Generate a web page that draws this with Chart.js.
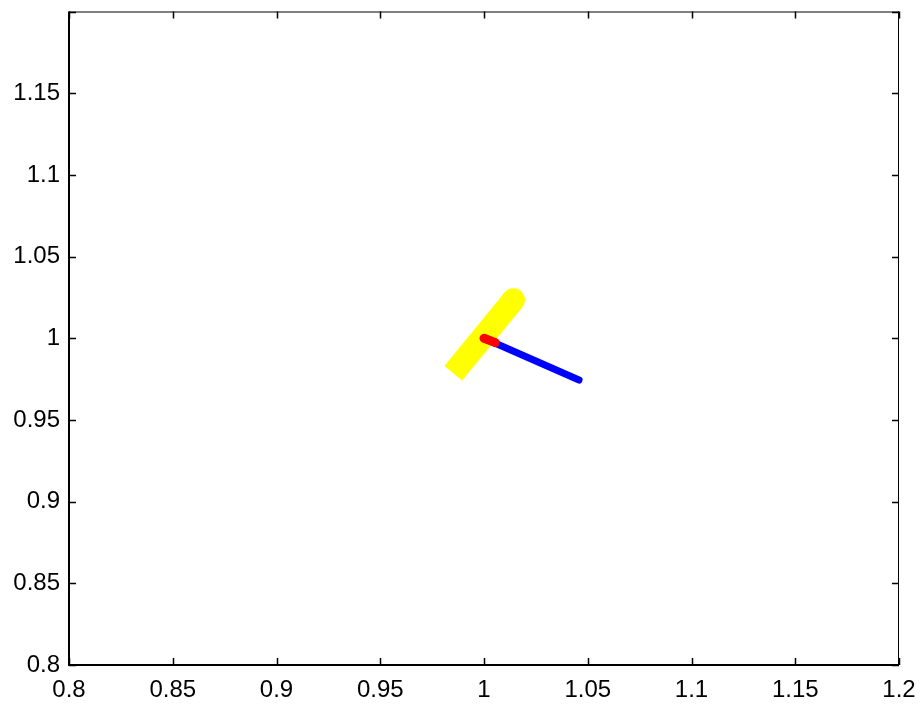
<!DOCTYPE html>
<html>
<head>
<meta charset="utf-8">
<script src="https://cdn.jsdelivr.net/npm/chart.js@4"></script>
<style>
  html, body { margin: 0; padding: 0; background: #fff; }
  #wrap { width: 924px; height: 705px; position: relative; }
</style>
</head>
<body>
<div id="wrap"><canvas id="plot"></canvas></div>
<script>
// values
const yellowX = [0.9852, 1.0142];
const yellowY = [0.9786, 1.0235];
const redX = [1.0, 1.0055];
const redY = [1.0, 0.9973];
const blueX = [1.0, 1.0458];
const blueY = [1.0, 0.9744];
const xTicks = [0.8, 0.85, 0.9, 0.95, 1, 1.05, 1.1, 1.15, 1.2];
const yTicks = [0.8, 0.85, 0.9, 0.95, 1, 1.05, 1.1, 1.15, 1.2];
const yHidden = [1.2];

function pts(xs, ys) {
    return xs.map((x, i) => ({ x: x, y: ys[i] }));
}

function fmt(v) {
    return parseFloat(v.toFixed(2)).toString();
}

// matlab style box with inward ticks on every side
const boxTicks = {
    id: 'boxTicks',
    afterDraw(chart) {
        const ctx = chart.ctx;
        const a = chart.chartArea;
        const xs = chart.scales.x;
        const ys = chart.scales.y;
        const len = 7;
        ctx.save();
        ctx.strokeStyle = '#000';
        ctx.lineWidth = 1;
        ctx.beginPath();
        ctx.moveTo(a.left, a.top + 0.5);
        ctx.lineTo(a.right, a.top + 0.5);
        ctx.moveTo(a.right - 0.5, a.top);
        ctx.lineTo(a.right - 0.5, a.bottom);
        ctx.stroke();
        ctx.lineWidth = 2;
        ctx.beginPath();
        ctx.moveTo(a.left, a.top);
        ctx.lineTo(a.left, a.bottom);
        ctx.lineTo(a.right, a.bottom);
        ctx.stroke();
        ctx.lineWidth = 1.5;
        ctx.beginPath();
        xTicks.forEach(t => {
            const px = Math.round(xs.getPixelForValue(t)) + 0.5;
            ctx.moveTo(px, a.bottom);
            ctx.lineTo(px, a.bottom - len);
            ctx.moveTo(px, a.top);
            ctx.lineTo(px, a.top + len);
        });
        yTicks.forEach(t => {
            const py = Math.round(ys.getPixelForValue(t)) + 0.5;
            ctx.moveTo(a.left, py);
            ctx.lineTo(a.left + len, py);
            ctx.moveTo(a.right, py);
            ctx.lineTo(a.right - len, py);
        });
        ctx.stroke();
        ctx.restore();
    }
};

const ctx = document.getElementById('plot').getContext('2d');
new Chart(ctx, {
    type: 'line',
    data: {
        datasets: [
            {
                label: 'red',
                data: pts(redX, redY),
                borderColor: '#ff0000',
                borderWidth: 9,
                borderCapStyle: 'round',
                pointRadius: 0,
                order: 1
            },
            {
                label: 'blue',
                data: pts(blueX, blueY),
                borderColor: '#0000ff',
                borderWidth: 7,
                borderCapStyle: 'round',
                pointRadius: 0,
                order: 2
            },
            {
                label: 'yellow',
                data: pts(yellowX, yellowY),
                borderColor: '#ffff00',
                backgroundColor: '#ffff00',
                borderWidth: 23,
                borderCapStyle: 'butt',
                pointRadius: [0, 11.5],
                pointBorderWidth: 0,
                order: 3
            }
        ]
    },
    options: {
        responsive: true,
        maintainAspectRatio: false,
        animation: false,
        events: [],
        layout: { padding: { top: 10, right: 25, left: 0, bottom: 0 } },
        plugins: {
            legend: { display: false },
            tooltip: { enabled: false }
        },
        scales: {
            x: {
                type: 'linear',
                min: 0.8,
                max: 1.2,
                afterBuildTicks: s => { s.ticks = xTicks.map(v => ({ value: v })); },
                afterFit: s => { s.height = 40; s.paddingLeft = 0; s.paddingRight = 0; },
                grid: { display: false, drawTicks: false },
                border: { display: false },
                ticks: {
                    color: '#000',
                    padding: 11,
                    maxRotation: 0,
                    autoSkip: false,
                    font: { family: 'Liberation Sans', size: 24 },
                    callback: v => fmt(v)
                }
            },
            y: {
                type: 'linear',
                min: 0.8,
                max: 1.2,
                afterBuildTicks: s => { s.ticks = yTicks.map(v => ({ value: v })); },
                afterFit: s => { s.width = 69; s.paddingTop = 0; s.paddingBottom = 0; },
                grid: { display: false, drawTicks: false },
                border: { display: false },
                ticks: {
                    color: '#000',
                    padding: 9,
                    autoSkip: false,
                    font: { family: 'Liberation Sans', size: 24 },
                    callback: v => yHidden.includes(v) ? '' : fmt(v)
                }
            }
        }
    },
    plugins: [boxTicks]
});
</script>
</body>
</html>
